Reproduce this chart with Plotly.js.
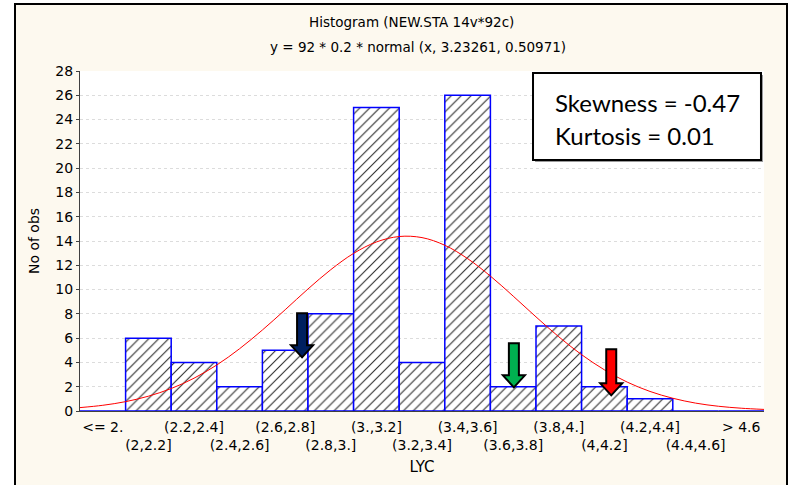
<!DOCTYPE html>
<html>
<head>
<meta charset="utf-8">
<script src="https://cdn.plot.ly/plotly-3.0.1.min.js"></script>
<style>
  html, body { margin: 0; padding: 0; background: #ffffff; width: 788px; height: 485px; overflow: hidden; }
  #frame { position: absolute; left: 14px; top: 3px; width: 770px; height: 480px; border: 2px solid #000; border-bottom: none; background: #FDF9EF; }
  #chart { width: 770px; height: 480px; }
</style>
</head>
<body>
<div id="frame"><div id="chart"></div></div>
<script>
// ---- data ----
const binLabels = ["<= 2.", "(2,2.2]", "(2.2,2.4]", "(2.4,2.6]", "(2.6,2.8]", "(2.8,3.]", "(3.,3.2]",
                   "(3.2,3.4]", "(3.4,3.6]", "(3.6,3.8]", "(3.8,4.]", "(4,4.2]", "(4.2,4.4]", "(4.4,4.6]", "> 4.6"];
const binCenters = [1.9, 2.1, 2.3, 2.5, 2.7, 2.9, 3.1, 3.3, 3.5, 3.7, 3.9, 4.1, 4.3, 4.5, 4.7];
const binCounts  = [0, 6, 4, 2, 5, 8, 25, 4, 26, 2, 7, 2, 1, 0, 0];
const binEdges   = [1.8, 2.0, 2.2, 2.4, 2.6, 2.8, 3.0, 3.2, 3.4, 3.6, 3.8, 4.0, 4.2, 4.4, 4.6, 4.8];

// expected normal curve, read along the x axis
const curveX = [1.8, 1.9, 2.0, 2.1, 2.2, 2.3, 2.4, 2.5, 2.6, 2.7, 2.8, 2.9, 3.0, 3.1, 3.2, 3.3,
                3.4, 3.5, 3.6, 3.7, 3.8, 3.9, 4.0, 4.1, 4.2, 4.3, 4.4, 4.5, 4.6, 4.7, 4.8];
const curveY = [0.28, 0.47, 0.77, 1.22, 1.85, 2.70, 3.79, 5.13, 6.67, 8.34, 10.05, 11.64, 12.98, 13.92, 14.37, 14.28,
                13.65, 12.55, 11.11, 9.46, 7.75, 6.11, 4.64, 3.39, 2.38, 1.61, 1.05, 0.65, 0.39, 0.23, 0.13];

const yTicks = [0, 2, 4, 6, 8, 10, 12, 14, 16, 18, 20, 22, 24, 26, 28];

// arrows (centre x, top y, tip y)
const arrowX   = [2.774, 3.703, 4.130];
const arrowTop = [8.05, 5.58, 5.08];
const arrowTip = [4.42, 1.95, 1.29];
const arrowColor = ["#002060", "#00B050", "#FF0000"];

const titleLine1 = "Histogram (NEW.STA 14v*92c)";
const titleLine2 = "y = 92 * 0.2 * normal (x, 3.23261, 0.50971)";
const statLines = ["Skewness = -0.47", "Kurtosis = 0.01"];

// ---- layout constants ----
const W = 770, H = 480;
const M = {l: 64, r: 22, t: 66, b: 74};
const plotW = W - M.l - M.r, plotH = H - M.t - M.b;
const xRange = [1.8, 4.8], yRange = [0, 28];
const dxPx = (xRange[1] - xRange[0]) / plotW;
const dyPx = (yRange[1] - yRange[0]) / plotH;

const tickText = binLabels.map((t, i) => i % 2 === 0 ? t : "<br>" + t);

const FONT = "DejaVu Sans, Liberation Sans, Arial, sans-serif";
const AXC = "#404040";

const traces = [
  {
    type: "bar", x: binCenters, y: binCounts, width: 0.2,
    marker: {
      color: "#ffffff",
      line: {color: "#0000FF", width: 1.5},
      pattern: {shape: "/", fgcolor: "#2e2e2e", bgcolor: "#ffffff", size: 7, solidity: 0.16}
    },
    hoverinfo: "x+y", showlegend: false
  },
  {
    type: "scatter", mode: "lines", x: curveX, y: curveY,
    line: {color: "#FF0000", width: 1, shape: "spline"},
    showlegend: false, hoverinfo: "skip"
  }
];

const shapes = [];
// stat box shadow + box
shapes.push({type: "rect", xref: "paper", yref: "paper", x0: 0.6653, x1: 0.9986, y0: 0.7322, y1: 0.9881,
             line: {width: 0}, fillcolor: "#9a9a9a", layer: "above"});
shapes.push({type: "rect", xref: "paper", yref: "paper", x0: 0.6623, x1: 0.9956, y0: 0.7382, y1: 0.9941,
             line: {color: "#000000", width: 2}, fillcolor: "#ffffff", layer: "above"});
// arrows
const sw = 5 * dxPx, hw = 11 * dxPx, hh = 12 * dyPx;
arrowX.forEach((cx, i) => {
  const yt = arrowTop[i], yb = arrowTip[i];
  const p = `M ${cx - sw} ${yt} L ${cx + sw} ${yt} L ${cx + sw} ${yb + hh} L ${cx + hw} ${yb + hh} ` +
            `L ${cx} ${yb} L ${cx - hw} ${yb + hh} L ${cx - sw} ${yb + hh} Z`;
  shapes.push({type: "path", xref: "x", yref: "y", path: p, fillcolor: arrowColor[i],
               line: {color: "#000000", width: 2}, layer: "above"});
});

const annotations = [
  {text: titleLine1, xref: "paper", yref: "paper", x: 0.484, y: 1.144, xanchor: "center", yanchor: "middle",
   showarrow: false, font: {family: FONT, size: 13.5, color: "#000"}},
  {text: titleLine2, xref: "paper", yref: "paper", x: 0.494, y: 1.0706, xanchor: "center", yanchor: "middle",
   showarrow: false, font: {family: FONT, size: 13.5, color: "#000"}},
  {text: statLines[0], xref: "paper", yref: "paper", x: 0.6915, y: 1 - (102 - 71) / plotH, xanchor: "left", yanchor: "middle",
   showarrow: false, font: {family: "Lato, Open Sans, sans-serif", size: 24, color: "#000"}},
  {text: statLines[1], xref: "paper", yref: "paper", x: 0.6915, y: 1 - (135 - 71) / plotH, xanchor: "left", yanchor: "middle",
   showarrow: false, font: {family: "Lato, Open Sans, sans-serif", size: 24, color: "#000"}}
];

const layout = {
  width: W, height: H,
  margin: M,
  paper_bgcolor: "#FDF9EF",
  plot_bgcolor: "#ffffff",
  font: {family: FONT, size: 14, color: "#000"},
  showlegend: false,
  bargap: 0,
  xaxis: {
    range: xRange, tickvals: binCenters, ticktext: tickText, ticks: "", tickangle: 0,
    ticklabelstandoff: 3,
    showgrid: false, zeroline: false, showline: true, linecolor: AXC, linewidth: 1,
    tickfont: {family: FONT, size: 14, color: "#000"},
    title: {text: "LYC", font: {family: FONT, size: 15, color: "#000"}, standoff: 9},
    fixedrange: true
  },
  xaxis2: {
    overlaying: "x", side: "top", range: xRange, tickvals: binEdges, ticks: "inside", ticklen: 4,
    tickcolor: AXC, showticklabels: false, showgrid: false, zeroline: false,
    showline: true, linecolor: AXC, linewidth: 1
  },
  yaxis: {
    range: yRange, tickvals: yTicks, ticks: "outside", ticklen: 3, tickcolor: AXC,
    showgrid: true, gridcolor: "#dcdcdc", griddash: "dot", gridwidth: 1,
    zeroline: false, showline: true, linecolor: AXC, linewidth: 1,
    tickfont: {family: FONT, size: 14, color: "#000"},
    title: {text: "No of obs", font: {family: FONT, size: 14, color: "#000"}, standoff: 12},
    fixedrange: true
  },
  yaxis2: {
    overlaying: "y", side: "right", range: yRange, tickvals: yTicks, ticks: "inside", ticklen: 4,
    tickcolor: AXC, showticklabels: false, showgrid: false, zeroline: false,
    showline: true, linecolor: AXC, linewidth: 1
  },
  shapes: shapes,
  annotations: annotations
};

Plotly.newPlot("chart", traces, layout, {staticPlot: true, displayModeBar: false});
</script>
</body>
</html>
